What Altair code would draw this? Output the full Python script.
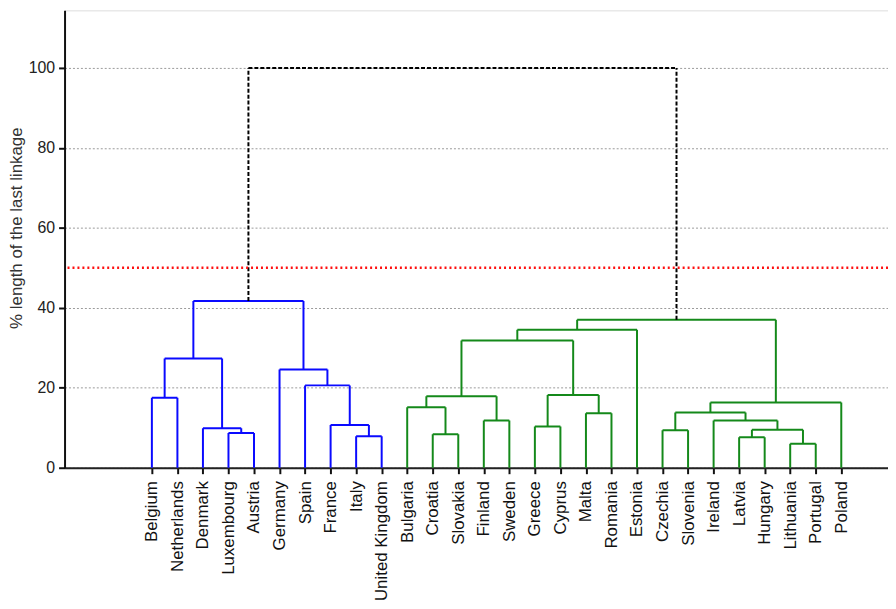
import altair as alt
import pandas as pd

leaves = ["Belgium", "Netherlands", "Denmark", "Luxembourg", "Austria", "Germany",
          "Spain", "France", "Italy", "United Kingdom", "Bulgaria", "Croatia",
          "Slovakia", "Finland", "Sweden", "Greece", "Cyprus", "Malta", "Romania",
          "Estonia", "Czechia", "Slovenia", "Ireland", "Latvia", "Hungary",
          "Lithuania", "Portugal", "Poland"]

# linkage steps (children may be leaves or earlier clusters c1, c2, ...)
merge_left = ["Belgium", "Luxembourg", "Denmark", "c1", "Italy", "France", "Spain",
              "Germany", "c4", "Croatia", "Bulgaria", "Finland", "c11", "Greece",
              "Malta", "c14", "c13", "c17", "Latvia", "Lithuania", "c19", "Ireland",
              "Czechia", "c23", "c24", "c18", "c9"]
merge_right = ["Netherlands", "Austria", "c2", "c3", "United Kingdom", "c5", "c6",
               "c7", "c8", "Slovakia", "c10", "Sweden", "c12", "Cyprus", "Romania",
               "c15", "c16", "Estonia", "Hungary", "Portugal", "c20", "c21",
               "Slovenia", "c22", "Poland", "c25", "c26"]
merge_height = [17.5, 8.7, 9.9, 27.3, 7.9, 10.7, 20.6, 24.6, 41.7, 8.4, 15.1, 11.8,
                17.9, 10.3, 13.6, 18.2, 31.8, 34.5, 7.6, 6.0, 9.5, 11.8, 9.4, 13.8,
                16.3, 37.0, 100.0]
merge_group = ["blue"] * 9 + ["green"] * 17 + ["root"]

cut_level = [50]
y_ticks = [0, 20, 40, 60, 80, 100]

pos = {name: i for i, name in enumerate(leaves)}
hgt = {name: 0.0 for name in leaves}
rows = []
for k, (a, b, h, g) in enumerate(zip(merge_left, merge_right, merge_height, merge_group)):
    cid = f"c{k + 1}"
    xa, xb = pos[a], pos[b]
    rows.append(dict(x=xa, x2=xa, y=hgt[a], y2=h, g=g))
    rows.append(dict(x=xb, x2=xb, y=hgt[b], y2=h, g=g))
    rows.append(dict(x=xa, x2=xb, y=h, y2=h, g=g))
    pos[cid] = (xa + xb) / 2
    hgt[cid] = h
seg = pd.DataFrame(rows)

label_expr = "[" + ",".join("'" + n + "'" for n in leaves) + "][datum.value]"

xscale = alt.Scale(domain=[-3.42, 28.83], nice=False, zero=False)
yscale = alt.Scale(domain=[0, 114.4], nice=False, zero=False)

tree = alt.Chart(seg).mark_rule(strokeWidth=2).encode(
    x=alt.X("x:Q", scale=xscale,
            axis=alt.Axis(values=list(range(len(leaves))), labelExpr=label_expr,
                          labelAngle=270, labelAlign="right", labelBaseline="middle",
                          labelFontSize=17, labelPadding=7, tickSize=6, tickWidth=2,
                          tickColor="#111", domainColor="#222", domainWidth=2,
                          labelColor="#111", grid=False, labelFont="Liberation Sans",
                          labelOverlap=False),
            title=None),
    x2="x2:Q",
    y=alt.Y("y:Q", scale=yscale,
            axis=alt.Axis(values=y_ticks, labelFontSize=16, labelColor="#222",
                          labelFont="Liberation Sans", tickSize=6, tickWidth=2,
                          tickColor="#111", domainColor="#111", domainWidth=2,
                          labelPadding=4, grid=True, gridColor="#9a9a9a",
                          gridDash=[2, 2], gridWidth=1,
                          title="% length of the last linkage", titleFontSize=17,
                          titleFontWeight="normal", titleFont="Liberation Sans",
                          titleColor="#333", titleX=-39, titleY=219),
            ),
    y2="y2:Q",
    color=alt.Color("g:N", scale=alt.Scale(domain=["blue", "green", "root"],
                                           range=["#0a0aff", "#14891a", "#000000"]),
                    legend=None),
    strokeDash=alt.StrokeDash("g:N", scale=alt.Scale(domain=["blue", "green", "root"],
                                                     range=[[1, 0], [1, 0], [4, 2]]),
                              legend=None),
)

red = alt.Chart(pd.DataFrame({"y": cut_level})).mark_rule(
    color="#ff1010", strokeWidth=2.5, strokeDash=[2, 3]
).encode(y=alt.Y("y:Q", scale=yscale))

chart = alt.layer(tree, red).properties(
    width=830, height=461,
    autosize=alt.AutoSizeParams(type="none"),
    padding={"left": 57, "top": 0, "right": 0, "bottom": 140},
).configure_view(stroke="#333", strokeWidth=1.5).configure(background="white")

chart.save("out.html", embed_options={"renderer": "svg", "actions": False})
